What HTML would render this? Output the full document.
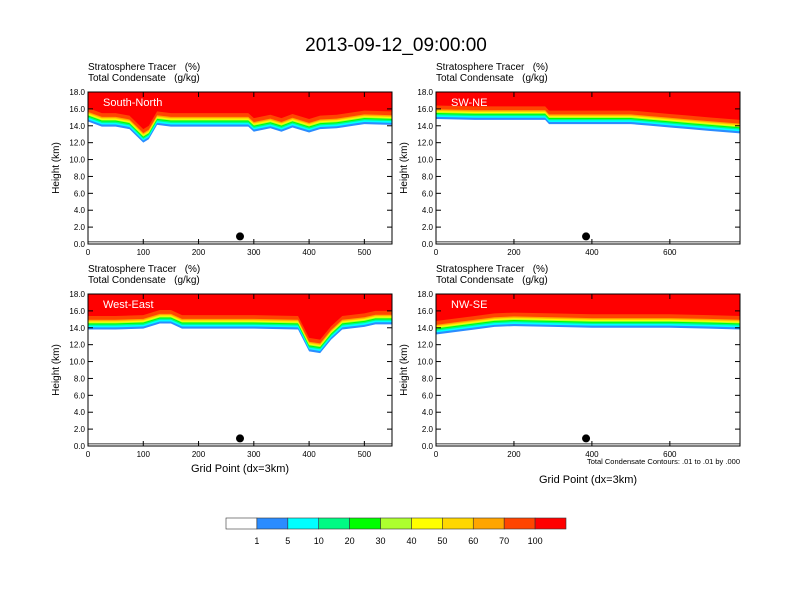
<!DOCTYPE html>
<html><head><meta charset="utf-8"><style>
body{margin:0;background:#fff;}
svg{display:block;font-family:"Liberation Sans",sans-serif;}
</style></head><body>
<svg id="chart" width="792" height="612" viewBox="0 0 792 612">
<text x="396" y="51" font-size="19" text-anchor="middle">2013-09-12_09:00:00</text>
<g id="panels"></g>
<g id="colorbar"></g>
<text x="740" y="464" font-size="7.5" text-anchor="end">Total Condensate Contours: .01 to .01 by .000</text>
</svg>
<script>
const NS="http://www.w3.org/2000/svg";
const bandColors=["#2b8cff","#00ffff","#00fa84","#00ff00","#adff2f","#ffff00","#ffd700","#ffa500","#ff4500","#ff0000"];
const bandOffsets=[0,0.25,0.45,0.6,0.72,0.82,0.92,1.02,1.15,1.6];
const cbLabels=["1","5","10","20","30","40","50","60","70","100"];
const titleTL="South-North",titleTR="SW-NE",titleBL="West-East",titleBR="NW-SE";
const gridTL=[0,25,50,75,100,110,125,150,200,250,290,300,330,350,370,400,420,450,480,500,550];
const tropTL=[14.5,13.9,13.9,13.6,12.0,12.4,14.1,13.9,13.9,13.9,13.9,13.3,13.7,13.3,13.8,13.2,13.6,13.7,14.0,14.2,14.1];
const gridTR=[0,100,200,280,290,400,500,550,600,650,700,780];
const tropTR=[14.8,14.7,14.7,14.7,14.2,14.2,14.2,14.0,13.8,13.6,13.4,13.1];
const gridBL=[0,50,100,130,150,170,200,300,380,400,420,440,460,500,520,550];
const tropBL=[13.8,13.8,13.9,14.5,14.5,13.9,13.9,13.9,13.8,11.2,11.0,12.6,13.8,14.1,14.4,14.4];
const gridBR=[0,50,100,150,200,300,400,500,600,700,780];
const tropBR=[13.2,13.5,13.8,14.1,14.2,14.1,14.0,14.0,14.0,13.9,13.8];
const dotGrid=[275,385,275,385];
const xTicksTL=[0,100,200,300,400,500], xTicksTR=[0,200,400,600];
const yTicks=[0,2,4,6,8,10,12,14,16,18];
const panels=[
 {name:"south-north",x0:88,y0:92,xmax:550,grid:gridTL,trop:tropTL,title:titleTL,xt:xTicksTL,dot:dotGrid[0],xlabel:0},
 {name:"sw-ne",x0:436,y0:92,xmax:780,grid:gridTR,trop:tropTR,title:titleTR,xt:xTicksTR,dot:dotGrid[1],xlabel:0},
 {name:"west-east",x0:88,y0:294,xmax:550,grid:gridBL,trop:tropBL,title:titleBL,xt:xTicksTL,dot:dotGrid[2],xlabel:26},
 {name:"nw-se",x0:436,y0:294,xmax:780,grid:gridBR,trop:tropBR,title:titleBR,xt:xTicksTR,dot:dotGrid[3],xlabel:37}
];
const W=304,H=152;
function mk(tag,attrs,parent){const e=document.createElementNS(NS,tag);for(const k in attrs)e.setAttribute(k,attrs[k]);parent.appendChild(e);return e;}
const root=document.getElementById("panels");
panels.forEach((p,pi)=>{
 const g=mk("g",{},root);
 
 
 const sx=v=>p.x0+v/p.xmax*W, sy=v=>p.y0+H-v/18*H;
 const t1=mk("text",{x:p.x0,y:p.y0-22,"font-size":"10"},g);t1.textContent="Stratosphere Tracer\u00a0\u00a0\u00a0(%)";
 
 
 const t2=mk("text",{x:p.x0,y:p.y0-11,"font-size":"10"},g);t2.textContent="Total Condensate\u00a0\u00a0\u00a0(g/kg)";
 
 
 const cid="clip"+pi;
 const cp=mk("clipPath",{id:cid},g);mk("rect",{x:p.x0,y:p.y0,width:W,height:H},cp);
 const fg=mk("g",{"clip-path":"url(#"+cid+")"},g);
 bandColors.forEach((c,bi)=>{
  let d="M"+sx(0)+","+sy(18);
  p.grid.forEach((gx,i)=>{d+=" L"+sx(gx)+","+sy(p.trop[i]+bandOffsets[bi]);});
  d+=" L"+sx(p.xmax)+","+sy(18)+"Z";
  const path=mk("path",{d:d,fill:c},fg);
  
  
 });
 const tl=mk("line",{x1:p.x0,x2:p.x0+W,y1:sy(0.25),y2:sy(0.25),stroke:"#000","stroke-width":"0.8"},fg);
 
 
 const dot=mk("circle",{cx:sx(p.dot),cy:sy(0.9),r:4,fill:"#000"},g);
 
 
 const lab=mk("text",{x:p.x0+15,y:p.y0+14,"font-size":"11",fill:"#fff"},g);lab.textContent=p.title;
 
 
 const fr=mk("rect",{x:p.x0,y:p.y0,width:W,height:H,fill:"none",stroke:"#000","stroke-width":"1"},g);
 
 
 yTicks.forEach(v=>{
  mk("line",{x1:p.x0,x2:p.x0+5,y1:sy(v),y2:sy(v),stroke:"#000"},g);
  mk("line",{x1:p.x0+W,x2:p.x0+W-5,y1:sy(v),y2:sy(v),stroke:"#000"},g);
  const t=mk("text",{x:p.x0-3,y:sy(v)+3,"font-size":"8","text-anchor":"end"},g);t.textContent=v.toFixed(1);
  
  
 });
 p.xt.forEach(v=>{
  mk("line",{x1:sx(v),x2:sx(v),y1:p.y0+H,y2:p.y0+H-5,stroke:"#000"},g);
  mk("line",{x1:sx(v),x2:sx(v),y1:p.y0,y2:p.y0+5,stroke:"#000"},g);
  const t=mk("text",{x:sx(v),y:p.y0+H+11,"font-size":"8","text-anchor":"middle"},g);t.textContent=v;
  
  
 });
 const yl=mk("text",{x:0,y:0,"font-size":"10","text-anchor":"middle",transform:"translate("+(p.x0-29)+","+(p.y0+H/2)+") rotate(-90)"},g);yl.textContent="Height (km)";
 
 
 if(p.xlabel){
  const xl=mk("text",{x:p.x0+W/2,y:p.y0+H+p.xlabel,"font-size":"11","text-anchor":"middle"},g);xl.textContent="Grid Point (dx=3km)";
  
  
 }
});
const cb=document.getElementById("colorbar");
const cbColors=["#ffffff"].concat(bandColors);
const bw=340/cbColors.length;
cbColors.forEach((c,i)=>{
 const r=mk("rect",{x:226+i*bw,y:518,width:bw,height:11,fill:c,stroke:"#333","stroke-width":"0.6"},cb);
 
 
});
cbLabels.forEach((l,i)=>{
 const t=mk("text",{x:226+(i+1)*bw,y:544,"font-size":"9","text-anchor":"middle"},cb);t.textContent=l;
 
 
});
</script>
</body></html>
